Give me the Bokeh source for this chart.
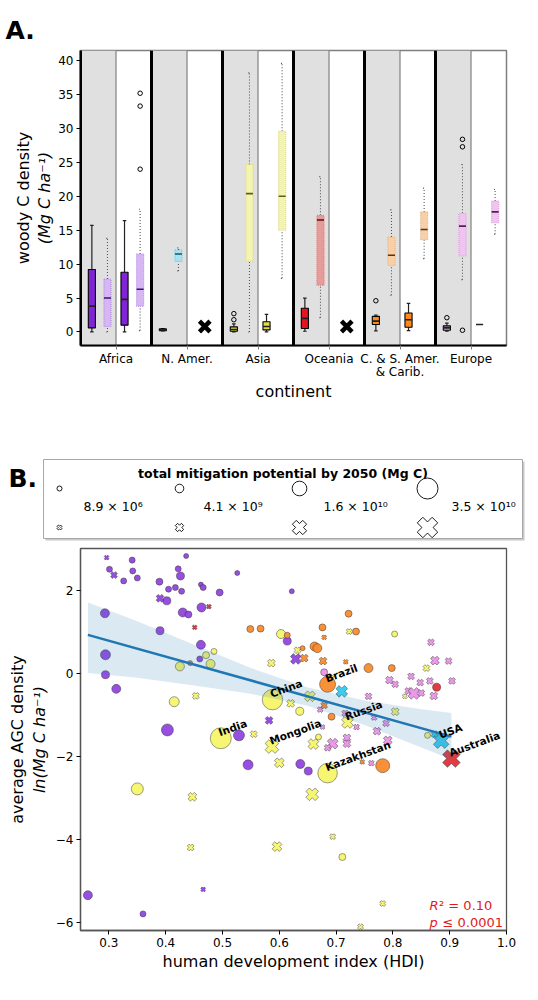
import numpy as np
from bokeh.plotting import figure
from bokeh.models import (Range1d, LinearAxis, FixedTicker, ColumnDataSource, Label,
                          Span, BoxAnnotation)
from bokeh.layouts import column
from bokeh.embed import file_html
from bokeh.resources import INLINE
from bokeh.core.properties import value

FONT = "DejaVu Sans"

# ======================= Panel A data =======================
continents = ["Africa", "N. Amer.", "Asia", "Oceania", "C. & S. Amer.\n& Carib.", "Europe"]
# box statistics: [lower whisker, Q1, median, Q3, upper whisker]; None = no data
gray_solid = [[0, 0.6, 3.8, 9.2, 15.7], [0.15, 0.2, 0.3, 0.45, 0.5], [0, 0.1, 0.35, 0.75, 1.2],
              [0.1, 0.5, 2.0, 3.5, 5.0], [0.15, 1.1, 1.6, 2.3, 2.5], [0.1, 0.25, 0.6, 0.9, 1.3]]
gray_dotted = [[0, 0.8, 5.0, 7.8, 13.8], [9.0, 10.4, 11.5, 12.1, 12.4], [0, 10.4, 20.4, 24.7, 38.2],
               [2.1, 6.9, 16.5, 17.2, 22.9], [5.4, 9.8, 11.3, 14.0, 18.0], [7.7, 11.2, 15.6, 17.5, 24.7]]
white_solid = [[0, 1.0, 4.8, 8.8, 16.4], None, [0, 0.3, 0.8, 1.5, 2.6],
               None, [0.2, 0.7, 1.8, 2.8, 4.2], [1.1, 1.1, 1.1, 1.1, 1.1]]
white_dotted = [[0.2, 3.8, 6.3, 11.5, 18.1], None, [7.9, 15.0, 20.0, 29.6, 39.6],
                None, [10.8, 13.6, 15.1, 17.7, 21.2], [14.4, 16.1, 17.7, 19.3, 21.0]]
gray_solid_out = [[], [], [1.8, 2.7], [], [4.6], [2.1]]
gray_dotted_out = [[], [], [], [], [], [0.25, 27.3, 28.4]]
white_solid_out = [[], [], [], [], [], []]
white_dotted_out = [[24.0, 33.3, 35.2], [], [], [], [], []]
a_yticks = [0, 5, 10, 15, 20, 25, 30, 35, 40]

solid_colors = ["#8024D6", "#3FC6E6", "#E2DC45", "#E3161F", "#FF8A1C", "#CDA7DC"]
pale_colors = ["#D6B6F3", "#A9E3F2", "#F3F3B2", "#E79C9C", "#F7CFA8", "#EEC5EE"]
pale_edges = ["#B58AE6", "#6FCDE3", "#DCDC80", "#D77C7C", "#EDB27A", "#DDA0DD"]
median_dark = ["#3E0F70", "#1A5560", "#5E5E18", "#5A0F0F", "#5A3310", "#55205A"]

# ======================= Panel B data =======================
# mitigation potential in 10^9 Mg C; shape "o" = circle, "x" = cross
af_hdi = [0.301, 0.326, 0.341, 0.342, 0.350, 0.293, 0.294, 0.294, 0.313, 0.389, 0.402, 0.405,
          0.417, 0.428, 0.422, 0.426, 0.436, 0.462, 0.466, 0.495, 0.526, 0.622, 0.430, 0.440,
          0.463, 0.390, 0.462, 0.460, 0.403, 0.614, 0.529, 0.545, 0.637, 0.651, 0.263, 0.360,
          0.296, 0.309, 0.390, 0.629, 0.582, 0.466]
af_agc = [2.50, 2.22, 2.72, 2.46, 2.29, 1.44, 0.44, -0.04, -0.38, 2.20, 1.74, 2.02,
          2.06, 1.97, 2.51, 2.34, 2.82, 2.13, 2.06, 1.94, 2.41, 1.97, 1.46, 1.41,
          1.58, 1.02, 0.68, 0.34, -1.37, 0.77, -1.50, -2.21, -2.19, -2.36, -5.35, -5.80,
          2.78, 2.36, 1.80, 0.34, -1.14, -5.21]
af_shape = ["o"] * 36 + ["x"] * 6
af_mitig = [0.93, 0.93, 0.93, 0.93, 0.93, 4.7, 6.3, 3.3, 4.7, 2.0, 3.3, 0.93,
            0.93, 0.93, 0.93, 3.3, 0.01, 0.01, 0.93, 2.0, 0.01, 0.01, 4.7, 2.0,
            4.7, 3.3, 4.7, 0.93, 10.0, 3.3, 8.1, 6.3, 4.7, 3.3, 4.7, 0.93,
            0.01, 2.0, 3.3, 8.1, 3.3, 0.01]

as_hdi = [0.471, 0.485, 0.479, 0.425, 0.415, 0.603, 0.588, 0.636, 0.497, 0.669, 0.685, 0.350,
          0.711, 0.803, 0.861,
          0.586, 0.453, 0.632, 0.620, 0.555, 0.654, 0.720, 0.587, 0.660, 0.600, 0.447, 0.658,
          0.444, 0.596, 0.694, 0.782, 0.743, 0.723, 0.691, 0.859, 0.804, 0.821]
as_agc = [0.43, 0.52, 0.22, 0.16, -0.69, 0.94, -0.64, -0.92, -1.57, -1.54, -2.41, -2.79,
          -4.43, 0.94, -1.50,
          0.24, -0.55, 0.55, -0.73, -1.47, -0.56, -1.19, -1.77, -1.71, -2.16, -2.98, -2.92,
          -4.20, -4.18, -3.94, -5.55, -6.11, 1.00, -0.12, 0.12, -0.93, -0.56]
as_shape = ["o"] * 15 + ["x"] * 22
as_mitig = [2.0, 0.93, 4.7, 4.7, 6.3, 4.7, 33.0, 3.3, 35.0, 0.93, 30.0, 10.0,
            2.0, 0.93, 0.93,
            3.3, 2.0, 2.0, 3.3, 2.0, 8.1, 10.0, 14.4, 8.1, 6.3, 4.7, 12.1,
            2.0, 6.3, 0.93, 0.93, 0.93, 0.93, 0.93, 2.0, 3.3, 0.01]

eu_hdi = [0.679,
          0.867, 0.874, 0.898, 0.832, 0.794, 0.804, 0.848, 0.865, 0.904, 0.827, 0.837, 0.850,
          0.872, 0.757, 0.767, 0.788, 0.772, 0.791, 0.716, 0.736, 0.672, 0.694, 0.685, 0.719,
          0.719, 0.676, 0.762]
eu_agc = [0.02,
          0.74, 0.30, 0.29, -0.08, -0.17, -0.27, -0.23, -0.19, -0.19, -0.43, -0.49, -0.48,
          -0.55, -0.56, -1.07, -1.21, -1.40, -1.62, -0.97, -1.30, -0.88, -1.70, -1.80, -1.56,
          -1.70, -1.30, -2.17]
eu_shape = ["o"] + ["x"] * 27
eu_mitig = [2.0,
            2.0, 4.7, 2.0, 2.0, 3.3, 2.0, 2.0, 2.0, 2.0, 2.0, 10.0, 2.0,
            3.3, 2.0, 0.93, 2.0, 3.3, 4.7, 2.0, 0.93, 0.93, 8.1, 2.0, 3.3,
            3.3, 0.01, 0.93]

sa_hdi = [0.549, 0.567, 0.614, 0.443, 0.641, 0.662, 0.667, 0.735, 0.722, 0.676, 0.757, 0.798,
          0.685, 0.692, 0.782,
          0.644, 0.679, 0.677, 0.717, 0.679, 0.746]
sa_agc = [1.06, 1.07, 0.91, 0.24, 0.60, 0.64, 0.60, 1.00, 1.43, 1.10, 0.12, 0.12,
          -0.27, -1.05, -2.23,
          0.36, 0.86, 0.29, 0.27, -0.78, -2.14]
sa_shape = ["o"] * 15 + ["x"] * 6
sa_mitig = [2.0, 2.0, 0.93, 0.01, 0.01, 4.7, 4.7, 2.0, 2.0, 2.0, 4.7, 2.0,
            19.4, 2.0, 14.4,
            3.3, 0.01, 3.3, 0.01, 2.0, 0.01]

oc_hdi = [0.877, 0.476, 0.451, 0.903]
oc_agc = [-0.34, 1.60, 1.10, -2.06]
oc_shape = ["o", "x", "x", "x"]
oc_mitig = [3.3, 0.01, 0.01, 25.2]

na_hdi = [0.710, 0.885, 0.873]
na_agc = [-0.44, -1.63, -1.47]
na_shape = ["x", "x", "x"]
na_mitig = [10.0, 19.4, 2.0]

region_colors = {"af": "#9146E0", "as": "#F6F56C", "eu": "#EA93E8", "sa": "#F98B2E",
                 "oc": "#E0303A", "na": "#37C8EA"}

country_names = ["China", "Brazil", "Russia", "USA", "Australia", "India", "Mongolia", "Kazakhstan"]
country_hdi = [0.588, 0.685, 0.720, 0.885, 0.903, 0.497, 0.587, 0.685]
country_agc = [-0.64, -0.27, -1.19, -1.63, -2.06, -1.57, -1.77, -2.41]

fit_hdi = [0.263, 0.903]
fit_agc = [0.92, -1.53]
band_hdi = [0.263, 0.35, 0.45, 0.55, 0.65, 0.75, 0.85, 0.903]
band_hi = [1.70, 1.25, 0.68, 0.12, -0.35, -0.66, -0.87, -0.96]
band_lo = [0.00, -0.11, -0.30, -0.50, -0.79, -1.25, -1.79, -2.08]

legend_values = [8.9e6, 4.1e9, 1.6e10, 3.5e10]
legend_labels = ["8.9 × 10⁶", "4.1 × 10⁹", "1.6 × 10¹⁰", "3.5 × 10¹⁰"]

b_xticks = [0.3, 0.4, 0.5, 0.6, 0.7, 0.8, 0.9, 1.0]
b_yticks = [-6, -4, -2, 0, 2]
b_ytick_labels = ["−6", "−4", "−2", "0", "2"]
r2_text = "² = 0.10"
p_text = "≤ 0.0001"

W = 538


def msize(v):
    return np.sqrt(25.0 + 416.0 * np.asarray(v, dtype=float) / 35.0)


def style_axis(ax, tick_size="12px", label_size="16px"):
    ax.major_label_text_font = FONT
    ax.major_label_text_font_size = tick_size
    ax.major_label_text_color = "black"
    ax.axis_label_text_font = FONT
    ax.axis_label_text_font_size = label_size
    ax.axis_label_text_font_style = "normal"
    ax.axis_label_text_color = "black"
    ax.minor_tick_line_color = None
    ax.major_tick_in = 0
    ax.major_tick_out = 4
    ax.major_label_standoff = 3
    ax.axis_label_standoff = 4


def outer_label(p, text, standoff=0):
    ax = LinearAxis(axis_label=text, ticker=FixedTicker(ticks=[]), axis_line_color=None,
                    major_tick_line_color=None, minor_tick_line_color=None,
                    major_label_text_font_size="0px", major_tick_out=0, minor_tick_out=0,
                    major_label_standoff=0, axis_label_standoff=standoff,
                    axis_label_text_font=FONT, axis_label_text_font_size="16px",
                    axis_label_text_font_style="normal", axis_label_text_color="black")
    p.add_layout(ax, "left")


def blank(height):
    f = figure(width=W, height=height, x_range=Range1d(0, W), y_range=Range1d(height, 0),
               output_backend="svg", toolbar_location=None, min_border=0,
               min_border_left=0, min_border_right=0, min_border_top=0, min_border_bottom=0,
               frame_align=False)
    f.axis.visible = False
    f.grid.visible = False
    f.outline_line_color = None
    return f


# ======================= "A." header =======================
TH = 46
pT = blank(TH)
pT.text(x=[5], y=[30], text=["A."], text_font=value(FONT), text_font_size="25px",
        text_font_style="bold", text_baseline="alphabetic", text_align="left", text_color="black")

# ======================= Panel A =======================
pA = figure(width=W, height=372, x_range=Range1d(-0.5, 5.5), y_range=Range1d(-2, 41.5),
            output_backend="svg", toolbar_location=None, frame_align=False,
            min_border_left=80, min_border_right=32, min_border_top=4, min_border_bottom=73)
pA.grid.visible = False
pA.outline_line_color = "#7f7f7f"
pA.outline_line_width = 1.5

ncont = len(continents)
for c in range(ncont):
    pA.add_layout(BoxAnnotation(left=c - 0.5, right=c, fill_color="#E0E0E0", fill_alpha=1.0,
                                line_color=None, level="underlay"))
    pA.add_layout(Span(location=c, dimension="height", line_color="#808080", line_width=1.2,
                       level="underlay"))
    pA.add_layout(Span(location=c - 0.5, dimension="height", line_color="black", line_width=3,
                       level="underlay"))

BW = 0.1
offsets = [-0.34, -0.12, 0.12, 0.34]
series = [(gray_solid, gray_solid_out, "solid"), (gray_dotted, gray_dotted_out, "dotted"),
          (white_solid, white_solid_out, "solid"), (white_dotted, white_dotted_out, "dotted")]

for (stats, outs, kind), off in zip(series, offsets):
    d = dict(x=[], lo=[], q1=[], md=[], q3=[], hi=[], left=[], right=[], cl=[], cr=[],
             fill=[], edge=[], mcol=[])
    ox, oy = [], []
    for i, s in enumerate(stats):
        for o in outs[i]:
            ox.append(i + off)
            oy.append(o)
        if s is None:
            continue
        x = i + off
        d["x"].append(x)
        for k, v in zip(["lo", "q1", "md", "q3", "hi"], s):
            d[k].append(v)
        d["left"].append(x - BW / 2)
        d["right"].append(x + BW / 2)
        cw = BW / 4 if kind == "solid" else BW / 6
        d["cl"].append(x - cw)
        d["cr"].append(x + cw)
        if kind == "solid":
            d["fill"].append(solid_colors[i])
            d["edge"].append("black")
            d["mcol"].append("#222222")
        else:
            d["fill"].append(pale_colors[i])
            d["edge"].append(pale_edges[i])
            d["mcol"].append(median_dark[i])
    src = ColumnDataSource(d)
    if kind == "solid":
        wl = dict(line_color="#222222", line_width=1.2)
        pA.segment("x", "lo", "x", "q1", source=src, **wl)
        pA.segment("x", "q3", "x", "hi", source=src, **wl)
        pA.segment("cl", "lo", "cr", "lo", source=src, **wl)
        pA.segment("cl", "hi", "cr", "hi", source=src, **wl)
        pA.quad(left="left", right="right", bottom="q1", top="q3", source=src,
                fill_color="fill", line_color="edge", line_width=1.1)
        pA.segment("left", "md", "right", "md", source=src, line_color="mcol", line_width=1.6)
    else:
        wl = dict(line_color="#555555", line_width=1.1, line_dash="1 2")
        pA.segment("x", "lo", "x", "q1", source=src, **wl)
        pA.segment("x", "q3", "x", "hi", source=src, **wl)
        pA.segment("cl", "lo", "cr", "lo", source=src, **wl)
        pA.segment("cl", "hi", "cr", "hi", source=src, **wl)
        pA.quad(left="left", right="right", bottom="q1", top="q3", source=src,
                fill_color="fill", line_color="edge", line_width=1.1, line_dash="1 1")
        pA.segment("left", "md", "right", "md", source=src, line_color="mcol", line_width=1.6)
    if ox:
        pA.scatter(ox, oy, marker="circle", size=4.5, fill_color=None, line_color="black",
                   line_width=1)

missing_x = [i + 0.25 for i in range(ncont) if white_solid[i] is None and white_dotted[i] is None]
pA.scatter(missing_x, [0.8] * len(missing_x), marker="x", size=15, line_width=4.5,
           line_color="black")

pA.xaxis.ticker = FixedTicker(ticks=list(range(ncont)))
pA.xaxis.major_label_overrides = {i: name for i, name in enumerate(continents)}
pA.yaxis.ticker = FixedTicker(ticks=a_yticks)
for ax in pA.xaxis + pA.yaxis:
    style_axis(ax)
pA.xaxis.axis_label = "continent"
pA.xaxis.axis_line_color = "black"
pA.xaxis.axis_line_width = 2
pA.xaxis.major_tick_line_color = "#808080"
pA.xaxis.major_label_text_line_height = 0.95
pA.xaxis.major_label_standoff = 2
pA.xaxis.axis_label_standoff = 0
pA.yaxis.axis_line_color = "black"
pA.yaxis.axis_line_width = 2
pA.yaxis.axis_label = "(Mg C ha⁻¹)"
pA.yaxis.axis_label_text_font_style = "italic"
pA.yaxis.axis_label_standoff = 1
outer_label(pA, "woody C density")

# ======================= Legend strip for panel B =======================
LH = 123
pL = blank(LH)
pL.quad(left=[45], right=[524], top=[43], bottom=[122], fill_color="#c8c8c8", line_color=None)
pL.quad(left=[43], right=[522], top=[41], bottom=[120], fill_color="white",
        line_color="#a8a8a8", line_width=1)
pL.text(x=[8], y=[60], text=["B."], text_font=value(FONT), text_font_size="25px",
        text_font_style="bold", text_baseline="middle", text_align="left", text_color="black")
pL.text(x=[282.5], y=[55], text=["total mitigation potential by 2050 (Mg C)"],
        text_font=value(FONT), text_font_size="12.5px", text_font_style="bold",
        text_align="center", text_baseline="alphabetic", text_color="black")
leg_x = [59, 179, 299, 427]
leg_sz = msize(np.array(legend_values) / 1e9)
pL.scatter(leg_x, [70] * 4, marker="circle", size=leg_sz, fill_color="white",
           line_color="black", line_width=0.9)
pL.scatter(leg_x, [109] * 4, marker="plus", angle=np.pi / 4, size=leg_sz * 1.0,
           fill_color="white", line_color="black", line_width=0.9)
pL.text(x=[x + 24 for x in leg_x], y=[88] * 4, text=legend_labels, text_font=value(FONT),
        text_font_size="12.5px", text_align="left", text_baseline="middle", text_color="black")

# ======================= Panel B =======================
pB = figure(width=W, height=459, x_range=Range1d(0.25, 1.0), y_range=Range1d(-6.2, 3.0),
            output_backend="svg", toolbar_location=None, frame_align=False,
            min_border_left=80, min_border_right=32, min_border_top=7, min_border_bottom=70)
pB.grid.visible = False
pB.outline_line_color = "#555555"
pB.outline_line_width = 1.3

regions = [("af", af_hdi, af_agc, af_shape, af_mitig), ("as", as_hdi, as_agc, as_shape, as_mitig),
           ("eu", eu_hdi, eu_agc, eu_shape, eu_mitig), ("sa", sa_hdi, sa_agc, sa_shape, sa_mitig),
           ("oc", oc_hdi, oc_agc, oc_shape, oc_mitig), ("na", na_hdi, na_agc, na_shape, na_mitig)]
for key, hx, hy, hs, hm in regions:
    for shp in ["o", "x"]:
        idx = [i for i, s in enumerate(hs) if s == shp]
        if not idx:
            continue
        src = ColumnDataSource(dict(x=[hx[i] for i in idx], y=[hy[i] for i in idx],
                                    size=msize([hm[i] for i in idx])))
        if shp == "o":
            pB.scatter("x", "y", size="size", source=src, marker="circle",
                       fill_color=region_colors[key], fill_alpha=0.95, line_color="#333333",
                       line_alpha=0.8, line_width=0.6)
        else:
            pB.scatter("x", "y", size="size", source=src, marker="plus", angle=np.pi / 4,
                       fill_color=region_colors[key], fill_alpha=0.95, line_color="#333333",
                       line_alpha=0.8, line_width=0.6)

pB.varea(x=band_hdi, y1=band_lo, y2=band_hi, fill_color="#1f77b4", fill_alpha=0.16)
pB.line(fit_hdi, fit_agc, line_color="#1f77b4", line_width=2.5)
pB.text(x=country_hdi, y=country_agc, text=country_names, angle=np.deg2rad(20),
        text_font=value(FONT), text_font_size="10.5px", text_font_style="bold",
        text_align="left", text_baseline="bottom", text_color="black")

pB.xaxis.ticker = FixedTicker(ticks=b_xticks)
pB.xaxis.major_label_overrides = {t: f"{t:.1f}" for t in b_xticks}
pB.yaxis.ticker = FixedTicker(ticks=b_yticks)
pB.yaxis.major_label_overrides = {t: l for t, l in zip(b_yticks, b_ytick_labels)}
for ax in pB.xaxis + pB.yaxis:
    style_axis(ax)
    ax.axis_line_color = "#555555"
    ax.axis_line_width = 1.3
pB.xaxis.axis_label = "human development index (HDI)"
pB.xaxis.axis_label_standoff = 2
pB.yaxis.axis_label = "ln(Mg C ha⁻¹)"
pB.yaxis.axis_label_text_font_style = "italic"
outer_label(pB, "average AGC density")

RED = "#E31A1C"
for txt, xo, yo, style in [("R", 349, 25, "italic"), (r2_text, 358.5, 25, "normal"),
                           ("p", 349, 8.5, "italic"), (p_text, 362, 8.5, "normal")]:
    pB.add_layout(Label(x=xo, y=yo, x_units="screen", y_units="screen", text=txt,
                        text_font=FONT, text_font_size="13px", text_font_style=style,
                        text_color=RED, text_baseline="alphabetic"))

layout = column(pT, pA, pL, pB)
open("out.html", "w").write(file_html(layout, INLINE))
